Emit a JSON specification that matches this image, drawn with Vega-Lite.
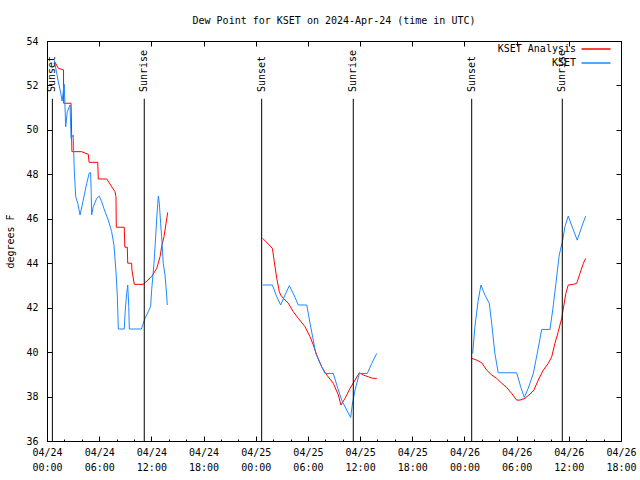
{
  "$schema": "https://vega.github.io/schema/vega-lite/v6.json",
  "width": 574,
  "height": 400,
  "autosize": {"type": "none"},
  "padding": {"left": 47, "top": 41, "right": 19, "bottom": 39},
  "background": "white",
  "title": {"text": "Dew Point for KSET on 2024-Apr-24 (time in UTC)", "font": "DejaVu Sans Mono", "fontSize": 10, "fontWeight": "normal", "color": "black", "anchor": "middle", "offset": 10},
  "config": {
    "view": {"stroke": "black", "strokeWidth": 1},
    "axis": {"grid": false, "domainColor": "black", "tickColor": "black", "labelColor": "black", "labelFont": "DejaVu Sans Mono", "labelFontSize": 10, "titleFont": "DejaVu Sans Mono", "titleFontSize": 10, "titleFontWeight": "normal", "titleColor": "black"}
  },
  "datasets": {
    "obs": [
      {"s": "KSET Analysis", "d": 1, "t": "2024-04-24T00:55Z", "v": 53.05},
      {"s": "KSET Analysis", "d": 1, "t": "2024-04-24T01:18Z", "v": 52.77},
      {"s": "KSET Analysis", "d": 1, "t": "2024-04-24T01:54Z", "v": 52.7},
      {"s": "KSET Analysis", "d": 1, "t": "2024-04-24T01:55Z", "v": 51.2},
      {"s": "KSET Analysis", "d": 1, "t": "2024-04-24T02:46Z", "v": 51.2},
      {"s": "KSET Analysis", "d": 1, "t": "2024-04-24T02:52Z", "v": 49.02},
      {"s": "KSET Analysis", "d": 1, "t": "2024-04-24T03:59Z", "v": 49.02},
      {"s": "KSET Analysis", "d": 1, "t": "2024-04-24T04:45Z", "v": 48.9},
      {"s": "KSET Analysis", "d": 1, "t": "2024-04-24T04:50Z", "v": 48.54},
      {"s": "KSET Analysis", "d": 1, "t": "2024-04-24T05:50Z", "v": 48.54},
      {"s": "KSET Analysis", "d": 1, "t": "2024-04-24T05:54Z", "v": 47.79},
      {"s": "KSET Analysis", "d": 1, "t": "2024-04-24T06:52Z", "v": 47.79},
      {"s": "KSET Analysis", "d": 1, "t": "2024-04-24T07:49Z", "v": 47.22},
      {"s": "KSET Analysis", "d": 1, "t": "2024-04-24T07:56Z", "v": 47.0},
      {"s": "KSET Analysis", "d": 1, "t": "2024-04-24T07:58Z", "v": 45.62},
      {"s": "KSET Analysis", "d": 1, "t": "2024-04-24T08:53Z", "v": 45.62},
      {"s": "KSET Analysis", "d": 1, "t": "2024-04-24T08:57Z", "v": 44.72},
      {"s": "KSET Analysis", "d": 1, "t": "2024-04-24T09:14Z", "v": 44.72},
      {"s": "KSET Analysis", "d": 1, "t": "2024-04-24T09:17Z", "v": 44.0},
      {"s": "KSET Analysis", "d": 1, "t": "2024-04-24T09:44Z", "v": 44.0},
      {"s": "KSET Analysis", "d": 1, "t": "2024-04-24T09:46Z", "v": 43.69},
      {"s": "KSET Analysis", "d": 1, "t": "2024-04-24T10:02Z", "v": 43.05},
      {"s": "KSET Analysis", "d": 1, "t": "2024-04-24T11:04Z", "v": 43.05},
      {"s": "KSET Analysis", "d": 1, "t": "2024-04-24T12:02Z", "v": 43.4},
      {"s": "KSET Analysis", "d": 1, "t": "2024-04-24T12:37Z", "v": 43.77},
      {"s": "KSET Analysis", "d": 1, "t": "2024-04-24T13:00Z", "v": 44.29},
      {"s": "KSET Analysis", "d": 1, "t": "2024-04-24T13:11Z", "v": 44.74},
      {"s": "KSET Analysis", "d": 1, "t": "2024-04-24T13:27Z", "v": 45.19},
      {"s": "KSET Analysis", "d": 1, "t": "2024-04-24T13:41Z", "v": 45.79},
      {"s": "KSET Analysis", "d": 1, "t": "2024-04-24T13:53Z", "v": 46.29},
      {"s": "KSET Analysis", "d": 2, "t": "2024-04-25T00:48Z", "v": 45.12},
      {"s": "KSET Analysis", "d": 2, "t": "2024-04-25T01:27Z", "v": 44.86},
      {"s": "KSET Analysis", "d": 2, "t": "2024-04-25T01:55Z", "v": 44.67},
      {"s": "KSET Analysis", "d": 2, "t": "2024-04-25T02:08Z", "v": 44.07},
      {"s": "KSET Analysis", "d": 2, "t": "2024-04-25T02:25Z", "v": 43.32},
      {"s": "KSET Analysis", "d": 2, "t": "2024-04-25T02:43Z", "v": 42.72},
      {"s": "KSET Analysis", "d": 2, "t": "2024-04-25T02:52Z", "v": 42.57},
      {"s": "KSET Analysis", "d": 2, "t": "2024-04-25T03:10Z", "v": 42.42},
      {"s": "KSET Analysis", "d": 2, "t": "2024-04-25T03:45Z", "v": 42.2},
      {"s": "KSET Analysis", "d": 2, "t": "2024-04-25T04:19Z", "v": 41.82},
      {"s": "KSET Analysis", "d": 2, "t": "2024-04-25T04:54Z", "v": 41.52},
      {"s": "KSET Analysis", "d": 2, "t": "2024-04-25T05:40Z", "v": 41.14},
      {"s": "KSET Analysis", "d": 2, "t": "2024-04-25T06:15Z", "v": 40.69},
      {"s": "KSET Analysis", "d": 2, "t": "2024-04-25T06:37Z", "v": 40.32},
      {"s": "KSET Analysis", "d": 2, "t": "2024-04-25T07:01Z", "v": 39.87},
      {"s": "KSET Analysis", "d": 2, "t": "2024-04-25T07:35Z", "v": 39.34},
      {"s": "KSET Analysis", "d": 2, "t": "2024-04-25T08:10Z", "v": 38.97},
      {"s": "KSET Analysis", "d": 2, "t": "2024-04-25T08:55Z", "v": 38.6},
      {"s": "KSET Analysis", "d": 2, "t": "2024-04-25T09:30Z", "v": 38.07},
      {"s": "KSET Analysis", "d": 2, "t": "2024-04-25T09:48Z", "v": 37.62},
      {"s": "KSET Analysis", "d": 2, "t": "2024-04-25T10:16Z", "v": 37.92},
      {"s": "KSET Analysis", "d": 2, "t": "2024-04-25T10:51Z", "v": 38.37},
      {"s": "KSET Analysis", "d": 2, "t": "2024-04-25T11:25Z", "v": 38.74},
      {"s": "KSET Analysis", "d": 2, "t": "2024-04-25T11:55Z", "v": 39.07},
      {"s": "KSET Analysis", "d": 2, "t": "2024-04-25T12:22Z", "v": 38.97},
      {"s": "KSET Analysis", "d": 2, "t": "2024-04-25T12:57Z", "v": 38.89},
      {"s": "KSET Analysis", "d": 2, "t": "2024-04-25T13:27Z", "v": 38.82},
      {"s": "KSET Analysis", "d": 2, "t": "2024-04-25T13:55Z", "v": 38.82},
      {"s": "KSET Analysis", "d": 3, "t": "2024-04-26T00:50Z", "v": 39.72},
      {"s": "KSET Analysis", "d": 3, "t": "2024-04-26T01:24Z", "v": 39.64},
      {"s": "KSET Analysis", "d": 3, "t": "2024-04-26T01:59Z", "v": 39.52},
      {"s": "KSET Analysis", "d": 3, "t": "2024-04-26T02:33Z", "v": 39.19},
      {"s": "KSET Analysis", "d": 3, "t": "2024-04-26T03:08Z", "v": 38.97},
      {"s": "KSET Analysis", "d": 3, "t": "2024-04-26T03:42Z", "v": 38.82},
      {"s": "KSET Analysis", "d": 3, "t": "2024-04-26T04:17Z", "v": 38.6},
      {"s": "KSET Analysis", "d": 3, "t": "2024-04-26T04:51Z", "v": 38.41},
      {"s": "KSET Analysis", "d": 3, "t": "2024-04-26T05:26Z", "v": 38.14},
      {"s": "KSET Analysis", "d": 3, "t": "2024-04-26T06:00Z", "v": 37.84},
      {"s": "KSET Analysis", "d": 3, "t": "2024-04-26T06:23Z", "v": 37.84},
      {"s": "KSET Analysis", "d": 3, "t": "2024-04-26T06:57Z", "v": 37.92},
      {"s": "KSET Analysis", "d": 3, "t": "2024-04-26T07:32Z", "v": 38.11},
      {"s": "KSET Analysis", "d": 3, "t": "2024-04-26T07:59Z", "v": 38.29},
      {"s": "KSET Analysis", "d": 3, "t": "2024-04-26T08:29Z", "v": 38.74},
      {"s": "KSET Analysis", "d": 3, "t": "2024-04-26T09:04Z", "v": 39.19},
      {"s": "KSET Analysis", "d": 3, "t": "2024-04-26T09:38Z", "v": 39.49},
      {"s": "KSET Analysis", "d": 3, "t": "2024-04-26T10:02Z", "v": 39.79},
      {"s": "KSET Analysis", "d": 3, "t": "2024-04-26T10:24Z", "v": 40.39},
      {"s": "KSET Analysis", "d": 3, "t": "2024-04-26T10:47Z", "v": 40.92},
      {"s": "KSET Analysis", "d": 3, "t": "2024-04-26T11:11Z", "v": 41.52},
      {"s": "KSET Analysis", "d": 3, "t": "2024-04-26T11:26Z", "v": 42.12},
      {"s": "KSET Analysis", "d": 3, "t": "2024-04-26T11:40Z", "v": 42.65},
      {"s": "KSET Analysis", "d": 3, "t": "2024-04-26T11:56Z", "v": 43.02},
      {"s": "KSET Analysis", "d": 3, "t": "2024-04-26T12:31Z", "v": 43.05},
      {"s": "KSET Analysis", "d": 3, "t": "2024-04-26T12:54Z", "v": 43.09},
      {"s": "KSET Analysis", "d": 3, "t": "2024-04-26T13:17Z", "v": 43.54},
      {"s": "KSET Analysis", "d": 3, "t": "2024-04-26T13:40Z", "v": 43.99},
      {"s": "KSET Analysis", "d": 3, "t": "2024-04-26T13:56Z", "v": 44.22},
      {"s": "KSET", "d": 1, "t": "2024-04-24T00:50Z", "v": 53.14},
      {"s": "KSET", "d": 1, "t": "2024-04-24T01:18Z", "v": 52.17},
      {"s": "KSET", "d": 1, "t": "2024-04-24T01:35Z", "v": 51.65},
      {"s": "KSET", "d": 1, "t": "2024-04-24T01:44Z", "v": 51.3},
      {"s": "KSET", "d": 1, "t": "2024-04-24T01:59Z", "v": 52.05},
      {"s": "KSET", "d": 1, "t": "2024-04-24T02:09Z", "v": 50.14},
      {"s": "KSET", "d": 1, "t": "2024-04-24T02:20Z", "v": 50.82},
      {"s": "KSET", "d": 1, "t": "2024-04-24T02:39Z", "v": 51.12},
      {"s": "KSET", "d": 1, "t": "2024-04-24T02:46Z", "v": 49.62},
      {"s": "KSET", "d": 1, "t": "2024-04-24T03:01Z", "v": 49.77},
      {"s": "KSET", "d": 1, "t": "2024-04-24T03:08Z", "v": 48.19},
      {"s": "KSET", "d": 1, "t": "2024-04-24T03:18Z", "v": 46.99},
      {"s": "KSET", "d": 1, "t": "2024-04-24T03:32Z", "v": 46.7},
      {"s": "KSET", "d": 1, "t": "2024-04-24T03:48Z", "v": 46.17},
      {"s": "KSET", "d": 1, "t": "2024-04-24T04:10Z", "v": 46.84},
      {"s": "KSET", "d": 1, "t": "2024-04-24T04:34Z", "v": 47.6},
      {"s": "KSET", "d": 1, "t": "2024-04-24T04:52Z", "v": 48.07},
      {"s": "KSET", "d": 1, "t": "2024-04-24T05:01Z", "v": 48.07},
      {"s": "KSET", "d": 1, "t": "2024-04-24T05:05Z", "v": 47.14},
      {"s": "KSET", "d": 1, "t": "2024-04-24T05:08Z", "v": 46.17},
      {"s": "KSET", "d": 1, "t": "2024-04-24T05:19Z", "v": 46.54},
      {"s": "KSET", "d": 1, "t": "2024-04-24T05:43Z", "v": 46.92},
      {"s": "KSET", "d": 1, "t": "2024-04-24T06:01Z", "v": 47.02},
      {"s": "KSET", "d": 1, "t": "2024-04-24T06:17Z", "v": 46.77},
      {"s": "KSET", "d": 1, "t": "2024-04-24T06:40Z", "v": 46.32},
      {"s": "KSET", "d": 1, "t": "2024-04-24T07:03Z", "v": 45.94},
      {"s": "KSET", "d": 1, "t": "2024-04-24T07:26Z", "v": 45.42},
      {"s": "KSET", "d": 1, "t": "2024-04-24T07:42Z", "v": 44.82},
      {"s": "KSET", "d": 1, "t": "2024-04-24T07:56Z", "v": 43.62},
      {"s": "KSET", "d": 1, "t": "2024-04-24T08:05Z", "v": 42.57},
      {"s": "KSET", "d": 1, "t": "2024-04-24T08:12Z", "v": 41.04},
      {"s": "KSET", "d": 1, "t": "2024-04-24T08:53Z", "v": 41.04},
      {"s": "KSET", "d": 1, "t": "2024-04-24T09:00Z", "v": 41.9},
      {"s": "KSET", "d": 1, "t": "2024-04-24T09:10Z", "v": 42.65},
      {"s": "KSET", "d": 1, "t": "2024-04-24T09:17Z", "v": 43.02},
      {"s": "KSET", "d": 1, "t": "2024-04-24T09:24Z", "v": 42.05},
      {"s": "KSET", "d": 1, "t": "2024-04-24T09:28Z", "v": 41.04},
      {"s": "KSET", "d": 1, "t": "2024-04-24T10:51Z", "v": 41.04},
      {"s": "KSET", "d": 1, "t": "2024-04-24T11:16Z", "v": 41.52},
      {"s": "KSET", "d": 1, "t": "2024-04-24T11:39Z", "v": 41.82},
      {"s": "KSET", "d": 1, "t": "2024-04-24T11:55Z", "v": 42.07},
      {"s": "KSET", "d": 1, "t": "2024-04-24T12:02Z", "v": 42.79},
      {"s": "KSET", "d": 1, "t": "2024-04-24T12:18Z", "v": 43.99},
      {"s": "KSET", "d": 1, "t": "2024-04-24T12:27Z", "v": 44.89},
      {"s": "KSET", "d": 1, "t": "2024-04-24T12:37Z", "v": 46.02},
      {"s": "KSET", "d": 1, "t": "2024-04-24T12:48Z", "v": 47.02},
      {"s": "KSET", "d": 1, "t": "2024-04-24T12:55Z", "v": 46.7},
      {"s": "KSET", "d": 1, "t": "2024-04-24T13:04Z", "v": 45.79},
      {"s": "KSET", "d": 1, "t": "2024-04-24T13:11Z", "v": 45.19},
      {"s": "KSET", "d": 1, "t": "2024-04-24T13:22Z", "v": 43.99},
      {"s": "KSET", "d": 1, "t": "2024-04-24T13:34Z", "v": 43.47},
      {"s": "KSET", "d": 1, "t": "2024-04-24T13:41Z", "v": 42.94},
      {"s": "KSET", "d": 1, "t": "2024-04-24T13:50Z", "v": 42.12},
      {"s": "KSET", "d": 2, "t": "2024-04-25T00:48Z", "v": 43.02},
      {"s": "KSET", "d": 2, "t": "2024-04-25T01:55Z", "v": 43.02},
      {"s": "KSET", "d": 2, "t": "2024-04-25T02:25Z", "v": 42.49},
      {"s": "KSET", "d": 2, "t": "2024-04-25T02:52Z", "v": 42.12},
      {"s": "KSET", "d": 2, "t": "2024-04-25T03:22Z", "v": 42.57},
      {"s": "KSET", "d": 2, "t": "2024-04-25T03:52Z", "v": 42.99},
      {"s": "KSET", "d": 2, "t": "2024-04-25T04:24Z", "v": 42.57},
      {"s": "KSET", "d": 2, "t": "2024-04-25T04:54Z", "v": 42.12},
      {"s": "KSET", "d": 2, "t": "2024-04-25T05:52Z", "v": 42.12},
      {"s": "KSET", "d": 2, "t": "2024-04-25T06:15Z", "v": 41.29},
      {"s": "KSET", "d": 2, "t": "2024-04-25T06:37Z", "v": 40.54},
      {"s": "KSET", "d": 2, "t": "2024-04-25T06:54Z", "v": 39.94},
      {"s": "KSET", "d": 2, "t": "2024-04-25T07:24Z", "v": 39.49},
      {"s": "KSET", "d": 2, "t": "2024-04-25T07:58Z", "v": 39.04},
      {"s": "KSET", "d": 2, "t": "2024-04-25T08:55Z", "v": 39.04},
      {"s": "KSET", "d": 2, "t": "2024-04-25T09:23Z", "v": 38.44},
      {"s": "KSET", "d": 2, "t": "2024-04-25T09:53Z", "v": 37.84},
      {"s": "KSET", "d": 2, "t": "2024-04-25T10:28Z", "v": 37.39},
      {"s": "KSET", "d": 2, "t": "2024-04-25T10:55Z", "v": 37.06},
      {"s": "KSET", "d": 2, "t": "2024-04-25T11:06Z", "v": 37.62},
      {"s": "KSET", "d": 2, "t": "2024-04-25T11:25Z", "v": 38.29},
      {"s": "KSET", "d": 2, "t": "2024-04-25T11:55Z", "v": 39.04},
      {"s": "KSET", "d": 2, "t": "2024-04-25T12:50Z", "v": 39.04},
      {"s": "KSET", "d": 2, "t": "2024-04-25T13:20Z", "v": 39.49},
      {"s": "KSET", "d": 2, "t": "2024-04-25T13:55Z", "v": 39.94},
      {"s": "KSET", "d": 3, "t": "2024-04-26T00:57Z", "v": 39.94},
      {"s": "KSET", "d": 3, "t": "2024-04-26T01:12Z", "v": 41.14},
      {"s": "KSET", "d": 3, "t": "2024-04-26T01:35Z", "v": 42.34},
      {"s": "KSET", "d": 3, "t": "2024-04-26T01:54Z", "v": 43.02},
      {"s": "KSET", "d": 3, "t": "2024-04-26T02:21Z", "v": 42.57},
      {"s": "KSET", "d": 3, "t": "2024-04-26T02:51Z", "v": 42.2},
      {"s": "KSET", "d": 3, "t": "2024-04-26T03:08Z", "v": 41.29},
      {"s": "KSET", "d": 3, "t": "2024-04-26T03:30Z", "v": 39.94},
      {"s": "KSET", "d": 3, "t": "2024-04-26T03:53Z", "v": 39.07},
      {"s": "KSET", "d": 3, "t": "2024-04-26T06:00Z", "v": 39.07},
      {"s": "KSET", "d": 3, "t": "2024-04-26T06:28Z", "v": 38.44},
      {"s": "KSET", "d": 3, "t": "2024-04-26T06:53Z", "v": 37.96},
      {"s": "KSET", "d": 3, "t": "2024-04-26T07:20Z", "v": 38.37},
      {"s": "KSET", "d": 3, "t": "2024-04-26T07:55Z", "v": 39.04},
      {"s": "KSET", "d": 3, "t": "2024-04-26T08:22Z", "v": 39.94},
      {"s": "KSET", "d": 3, "t": "2024-04-26T08:53Z", "v": 41.02},
      {"s": "KSET", "d": 3, "t": "2024-04-26T09:50Z", "v": 41.02},
      {"s": "KSET", "d": 3, "t": "2024-04-26T10:09Z", "v": 41.9},
      {"s": "KSET", "d": 3, "t": "2024-04-26T10:31Z", "v": 43.09},
      {"s": "KSET", "d": 3, "t": "2024-04-26T10:54Z", "v": 44.37},
      {"s": "KSET", "d": 3, "t": "2024-04-26T11:18Z", "v": 45.04},
      {"s": "KSET", "d": 3, "t": "2024-04-26T11:33Z", "v": 45.64},
      {"s": "KSET", "d": 3, "t": "2024-04-26T11:56Z", "v": 46.12},
      {"s": "KSET", "d": 3, "t": "2024-04-26T12:27Z", "v": 45.57},
      {"s": "KSET", "d": 3, "t": "2024-04-26T12:58Z", "v": 45.04},
      {"s": "KSET", "d": 3, "t": "2024-04-26T13:29Z", "v": 45.64},
      {"s": "KSET", "d": 3, "t": "2024-04-26T13:56Z", "v": 46.12}
    ],
    "sun": [
      {"event": "Sunset", "t": "2024-04-24T00:37Z"},
      {"event": "Sunrise", "t": "2024-04-24T11:11Z"},
      {"event": "Sunset", "t": "2024-04-25T00:41Z"},
      {"event": "Sunrise", "t": "2024-04-25T11:13Z"},
      {"event": "Sunset", "t": "2024-04-26T00:50Z"},
      {"event": "Sunrise", "t": "2024-04-26T11:15Z"}
    ]
  },
  "resolve": {"axis": {"x": "independent", "y": "independent"}},
  "layer": [
    {
      "data": {"name": "obs"},
      "mark": {"type": "line", "strokeWidth": 1},
      "encoding": {
        "x": {"field": "t", "type": "temporal",
          "scale": {"type": "utc", "domain": [{"year": 2024, "month": 4, "date": 24, "hours": 0, "utc": true}, {"year": 2024, "month": 4, "date": 26, "hours": 18, "utc": true}], "nice": false},
          "axis": {"orient": "bottom", "title": null, "labelOverlap": false, "labelFlush": false,
            "labelExpr": "[utcFormat(datum.value, '%m/%d'), utcFormat(datum.value, '%H:%M')]",
            "tickSize": -5,
            "labelPadding": 11, "labelLineHeight": 15, "labelBaseline": "top"}},
        "y": {"field": "v", "type": "quantitative",
          "scale": {"domain": [36, 54], "nice": false, "zero": false},
          "axis": {"orient": "left", "title": "degrees F", "values": [36, 38, 40, 42, 44, 46, 48, 50, 52, 54], "tickSize": -5, "labelPadding": 14, "titlePadding": 10}},
        "color": {"field": "s", "type": "nominal",
          "scale": {"domain": ["KSET Analysis", "KSET"], "range": ["#ff0000", "#1e88ff"]},
          "legend": {"orient": "none", "legendX": 543, "legendY": 2, "title": null, "padding": 0, "symbolType": "M-2.9,0H2.9", "symbolSize": 100, "symbolStrokeWidth": 1.5, "labelAlign": "right", "labelOffset": -26, "labelFont": "DejaVu Sans Mono", "labelFontSize": 10, "labelColor": "black", "rowPadding": 3}},
        "detail": {"field": "d", "type": "nominal"}
      }
    },
    {
      "data": {"name": "sun"},
      "mark": {"type": "rule", "color": "black", "strokeWidth": 1},
      "encoding": {
        "x": {"field": "t", "type": "temporal",
          "axis": {"orient": "top", "title": null, "labels": false, "tickSize": -5}},
        "y": {"datum": 36, "type": "quantitative",
          "axis": {"orient": "right", "title": null, "labels": false, "values": [36, 38, 40, 42, 44, 46, 48, 50, 52, 54], "tickSize": -5}},
        "y2": {"datum": 51.4}
      }
    },
    {
      "data": {"name": "sun"},
      "mark": {"type": "text", "angle": 270, "align": "left", "baseline": "middle", "font": "DejaVu Sans Mono", "fontSize": 10, "color": "black"},
      "encoding": {
        "x": {"field": "t", "type": "temporal",
          "axis": {"orient": "bottom", "title": null, "labels": false, "domain": false, "tickSize": -2,
            "values": [
              {"year": 2024, "month": 4, "date": 24, "hours": 2, "utc": true},
              {"year": 2024, "month": 4, "date": 24, "hours": 4, "utc": true},
              {"year": 2024, "month": 4, "date": 24, "hours": 8, "utc": true},
              {"year": 2024, "month": 4, "date": 24, "hours": 10, "utc": true},
              {"year": 2024, "month": 4, "date": 24, "hours": 14, "utc": true},
              {"year": 2024, "month": 4, "date": 24, "hours": 16, "utc": true},
              {"year": 2024, "month": 4, "date": 24, "hours": 20, "utc": true},
              {"year": 2024, "month": 4, "date": 24, "hours": 22, "utc": true},
              {"year": 2024, "month": 4, "date": 25, "hours": 2, "utc": true},
              {"year": 2024, "month": 4, "date": 25, "hours": 4, "utc": true},
              {"year": 2024, "month": 4, "date": 25, "hours": 8, "utc": true},
              {"year": 2024, "month": 4, "date": 25, "hours": 10, "utc": true},
              {"year": 2024, "month": 4, "date": 25, "hours": 14, "utc": true},
              {"year": 2024, "month": 4, "date": 25, "hours": 16, "utc": true},
              {"year": 2024, "month": 4, "date": 25, "hours": 20, "utc": true},
              {"year": 2024, "month": 4, "date": 25, "hours": 22, "utc": true},
              {"year": 2024, "month": 4, "date": 26, "hours": 2, "utc": true},
              {"year": 2024, "month": 4, "date": 26, "hours": 4, "utc": true},
              {"year": 2024, "month": 4, "date": 26, "hours": 8, "utc": true},
              {"year": 2024, "month": 4, "date": 26, "hours": 10, "utc": true},
              {"year": 2024, "month": 4, "date": 26, "hours": 14, "utc": true},
              {"year": 2024, "month": 4, "date": 26, "hours": 16, "utc": true}
            ]}},
        "y": {"datum": 51.7, "type": "quantitative", "axis": null},
        "text": {"field": "event"}
      }
    }
  ]
}
